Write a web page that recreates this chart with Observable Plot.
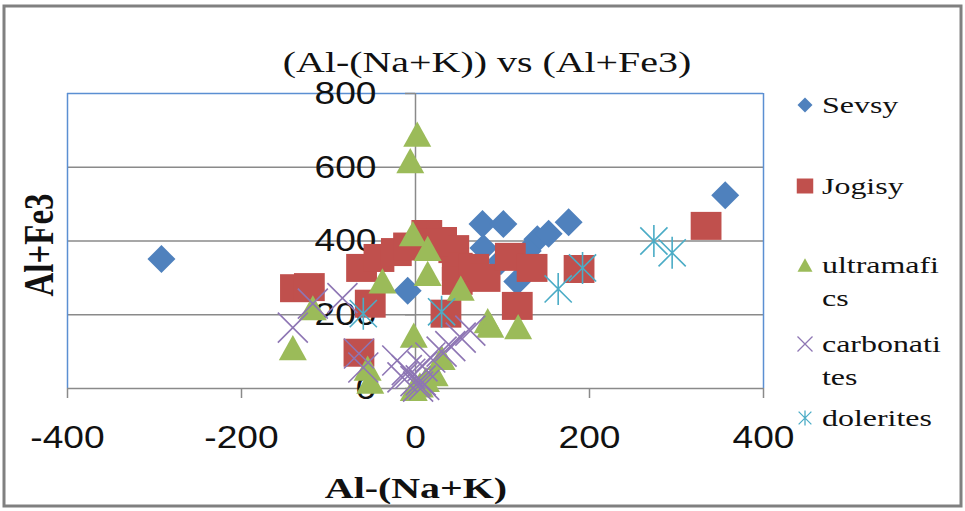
<!DOCTYPE html>
<html><head><meta charset="utf-8">
<script src="https://cdn.jsdelivr.net/npm/d3@7"></script>
<script src="https://cdn.jsdelivr.net/npm/@observablehq/plot@0.6"></script>
<style>body{margin:0;background:#fff}</style>
</head><body>
<script>
// ---- data ----
const chartTitle = "(Al-(Na+K)) vs (Al+Fe3)";
const xLabel = "Al-(Na+K)";
const yLabel = "Al+Fe3";
const xTicks = [-400, -200, 0, 200, 400];
const yTicks = [0, 200, 400, 600, 800];
const gridY = [200, 400, 600];
const seriesNames = ["Sevsy", "Jogisy", "ultramafics", "carbonatites", "dolerites"];
const legendLines = [["Sevsy"], ["Jogisy"], ["ultramafi", "cs"], ["carbonati", "tes"], ["dolerites"]];

const sevsyX = [-292, -9, 77, 101, 176, 78, 140, 153, 129, 117, 98, 356];
const sevsyY = [351, 265, 446, 446, 451, 381, 405, 420, 373, 290, 345, 524];

const jogisyX = [-138, -122, -65, -52, -62, -42, -22, -8, 13, 30, 44, 48, 48, 67, 80, 109, 134, 117, 188, 35, 334, 20];
const jogisyY = [272, 275, 97, 230, 327, 354, 370, 385, 419, 400, 378, 330, 292, 327, 300, 357, 327, 224, 324, 203, 441, 395];

const ultraX = [2, -6, -3, 14, 14, -38, 52, -2, 30, 22, 83, 86, 118, -55, -52, -141, -118, 5, 12, -2];
const ultraY = [690, 618, 420, 380, 312, 292, 272, 145, 84, 40, 184, 172, 168, 55, 20, 111, 219, 10, 25, 0];

const carbX = [-141, -118, -84, -65, -60, -21, -10, -6, 0, 6, 3, 10, 17, 30, 40, 52, 63, -15, 8];
const carbY = [165, 230, 245, 95, 57, 76, 50, 40, 20, 22, 5, 10, 84, 100, 115, 138, 157, 30, 60];

const dolX = [-60, 30, 164, 192, 274, 295];
const dolY = [203, 208, 270, 327, 400, 368];

const colors = ["#4F81BD", "#C0504D", "#9BBB59", "#8E76B4", "#4BACC6"];

// ---- symbols ----
const R = (s) => Math.sqrt(s / Math.PI);
const symDiamond = {draw(c, s) { const r = R(s); c.moveTo(0, -r); c.lineTo(r, 0); c.lineTo(0, r); c.lineTo(-r, 0); c.closePath(); }};
const symSquare = {draw(c, s) { const r = R(s); const w = r * 1.1; c.moveTo(-w, -r); c.lineTo(w, -r); c.lineTo(w, r); c.lineTo(-w, r); c.closePath(); }};
const symTriangle = {draw(c, s) { const r = R(s); c.moveTo(0, -0.9 * r); c.lineTo(r, 0.9 * r); c.lineTo(-r, 0.9 * r); c.closePath(); }};
const symTimes = {draw(c, s) { const r = R(s); c.moveTo(-r, -r); c.lineTo(r, r); c.moveTo(r, -r); c.lineTo(-r, r); }};
const symStar = {draw(c, s) { const r = R(s); const d = r * 0.85; c.moveTo(-d, -d); c.lineTo(d, d); c.moveTo(d, -d); c.lineTo(-d, d); c.moveTo(0, -r); c.lineTo(0, r); }};

const series = [
  {xs: sevsyX, ys: sevsyY, sym: symDiamond, filled: true, r: 14},
  {xs: jogisyX, ys: jogisyY, sym: symSquare, filled: true, r: 14},
  {xs: ultraX, ys: ultraY, sym: symTriangle, filled: true, r: 14},
  {xs: carbX, ys: carbY, sym: symTimes, filled: false, r: 15},
  {xs: dolX, ys: dolY, sym: symStar, filled: false, r: 16}
];

const gray = "#8a8a8a";
const frameBlue = "#5b8fd2";

const dotMarks = series.map((s, k) => Plot.dot(d3.range(s.xs.length), {
  x: i => s.xs[i], y: i => s.ys[i], r: s.r, symbol: s.sym,
  fill: s.filled ? colors[k] : "none",
  stroke: s.filled ? "none" : colors[k],
  strokeWidth: s.filled ? 0 : 1.6
}));

const svg = Plot.plot({
  width: 965, height: 511,
  marginLeft: 67, marginRight: 202, marginTop: 93, marginBottom: 123,
  x: {domain: [-400, 400], axis: null},
  y: {domain: [0, 800], axis: null},
  style: {background: "white", overflow: "visible"},
  marks: [
    Plot.ruleY(gridY, {stroke: gray, strokeWidth: 1.5}),
    Plot.ruleY([800], {stroke: frameBlue, strokeWidth: 1.5}),
    Plot.ruleX([-400, 400], {stroke: frameBlue, strokeWidth: 1.5}),
    Plot.ruleX([0], {stroke: gray, strokeWidth: 1.5}),
    Plot.ruleY([0], {stroke: gray, strokeWidth: 1.5}),
    Plot.ruleX(xTicks, {x: d => d, y1: 0, y2: 0, insetBottom: -10, stroke: gray, strokeWidth: 1.5}),
    Plot.ruleY(yTicks, {y: d => d, x1: 0, x2: 0, insetLeft: -10, stroke: gray, strokeWidth: 1.5}),
    Plot.text(yTicks, {x: 0, y: d => d, text: d => String(d), textAnchor: "end", dx: -39, fontSize: 32, fontFamily: "Liberation Sans", fill: "#111"}),
    Plot.text(xTicks, {x: d => d, frameAnchor: "bottom", dy: 59, text: d => String(d), fontSize: 32, fontFamily: "Liberation Sans", fill: "#111"}),
    ...dotMarks
  ]
});
document.body.append(svg);
const root = d3.select(svg);

// Stretch text horizontally, keeping its anchor point fixed (left/center/right)
function stretch(el, k, anchor) {
  const L = el.getComputedTextLength();
  const W = L * k;
  const x0 = +el.getAttribute("x") || 0;
  let start = x0;
  if (anchor === "middle") start = x0 - W / 2;
  else if (anchor === "end") start = x0 - W;
  el.setAttribute("x", start);
  el.setAttribute("text-anchor", "start");
  el.style.textAnchor = "start";
  el.setAttribute("textLength", W);
  el.setAttribute("lengthAdjust", "spacingAndGlyphs");
}
// tick labels drawn by Plot (the only texts so far)
root.selectAll("text").each(function() {
  const a = this.getAttribute("text-anchor") || this.parentNode.getAttribute("text-anchor") || "middle";
  stretch(this, 1.16, a);
});

function addText(x, y, str, size, weight, anchor, k) {
  const t = root.append("text").attr("x", x).attr("y", y).attr("text-anchor", anchor)
    .attr("dominant-baseline", "central").style("font-family", "Liberation Serif")
    .style("font-size", size + "px").style("font-weight", weight).attr("fill", "#111").text(str);
  stretch(t.node(), k, anchor);
  return t;
}

// title
addText(487, 61, chartTitle, 30, "normal", "middle", 1.33);
// x title
addText(416, 487, xLabel, 30, "bold", "middle", 1.33);
// y title
root.append("text").attr("transform", "translate(38,245) scale(1.3,1) rotate(-90)")
  .attr("text-anchor", "middle").attr("dominant-baseline", "central")
  .style("font-family", "Liberation Serif").style("font-size", "33px").style("font-weight", "bold")
  .attr("fill", "#111").text(yLabel);

// legend
const legY = [105, 186, 265, 344, 418];
legendLines.forEach((lines, k) => {
  const s = series[k];
  root.append("path")
    .attr("transform", `translate(805,${legY[k]})`)
    .attr("d", d3.symbol(s.sym, Math.PI * 7.5 * 7.5)())
    .attr("fill", s.filled ? colors[k] : "none")
    .attr("stroke", s.filled ? "none" : colors[k])
    .attr("stroke-width", 1.3);
  lines.forEach((ln, j) => {
    addText(822, legY[k] + j * 33, ln, 24, "normal", "start", 1.33);
  });
});

// outer border
root.append("rect").attr("x", 4).attr("y", 6).attr("width", 957).attr("height", 500)
  .attr("fill", "none").attr("stroke", "#808080").attr("stroke-width", 3);
</script>
</body></html>
